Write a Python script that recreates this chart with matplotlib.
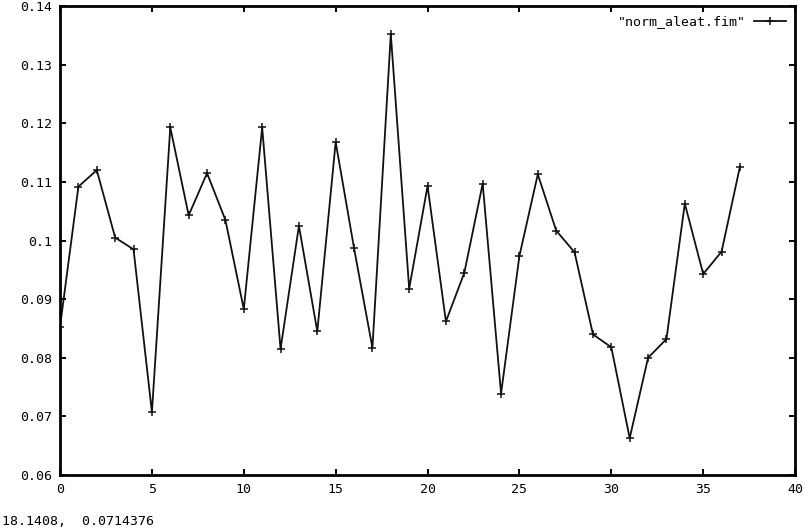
import matplotlib
matplotlib.use('Agg')
import matplotlib.pyplot as plt
from matplotlib.ticker import FuncFormatter

# values
xs = list(range(38))
ys = [0.0853, 0.1092, 0.1120, 0.1005, 0.0985, 0.0707, 0.1193, 0.1043, 0.1115, 0.1035,
      0.0883, 0.1193, 0.0815, 0.1025, 0.0845, 0.1168, 0.0987, 0.0817, 0.1352, 0.0918,
      0.1093, 0.0862, 0.0945, 0.1097, 0.0739, 0.0974, 0.1113, 0.1017, 0.0980, 0.0840,
      0.0818, 0.0663, 0.0800, 0.0832, 0.1063, 0.0943, 0.0981, 0.1126]
label = '"norm_aleat.fim"'
xticks = [0, 5, 10, 15, 20, 25, 30, 35, 40]
yticks = [0.06, 0.07, 0.08, 0.09, 0.1, 0.11, 0.12, 0.13, 0.14]
status = '18.1408,  0.0714376'

plt.rcParams['font.family'] = 'DejaVu Sans Mono'

fig = plt.figure(figsize=(8.08, 5.32), dpi=100)
ax = fig.add_axes([0.0743, 0.107, 0.9097, 0.8817])

ax.plot(xs, ys, color='#111111', lw=1.3, marker='+', ms=5.5, mew=1.1, label=label)

ax.set_xlim(0, 40)
ax.set_ylim(0.06, 0.14)
ax.set_xticks(xticks)
ax.set_yticks(yticks)
ax.yaxis.set_major_formatter(FuncFormatter(lambda v, p: '%g' % v))
ax.tick_params(direction='in', top=True, right=True, length=4, width=1.4,
               labelsize=9.5, pad=6)
for s in ax.spines.values():
    s.set_linewidth(2.0)

ax.legend(loc='upper right', frameon=False, fontsize=9.5, handlelength=2.4,
          markerfirst=False, borderaxespad=0.3, handletextpad=0.6)

fig.text(0.002, 0.008, status, fontsize=9.5, ha='left', va='bottom')

fig.savefig('out.png', dpi=100)
